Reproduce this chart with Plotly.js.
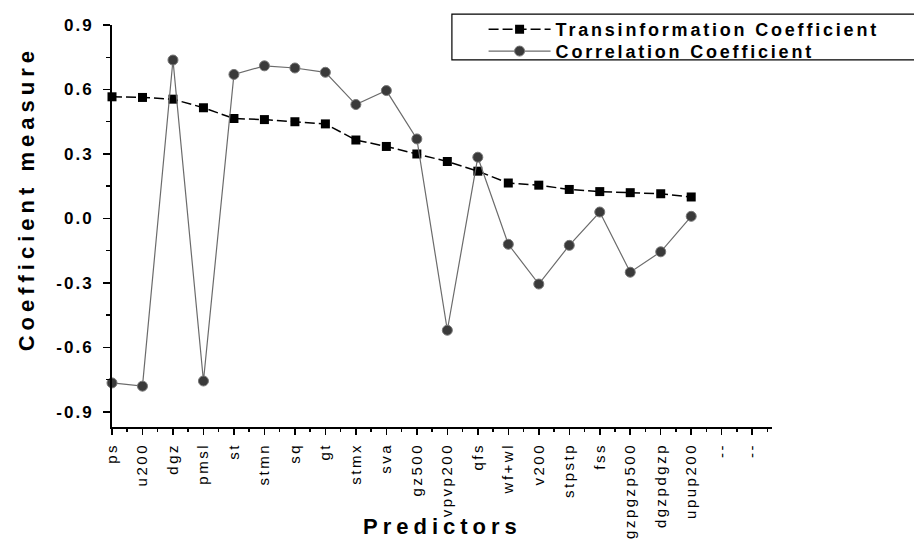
<!DOCTYPE html>
<html><head><meta charset="utf-8">
<script src="https://cdn.plot.ly/plotly-3.0.1.min.js"></script>
<style>
html,body{margin:0;padding:0;background:#fff;}
#chart .xtick text{letter-spacing:2.5px;}
#chart .ytick text{letter-spacing:2px;}
#chart text.legendtext, #chart text.legend2text{letter-spacing:2.8px;}
#chart .annotation-text{letter-spacing:5px;}
</style></head>
<body><div id="chart" style="width:914px;height:544px;"></div>
<script>
const predictors = ['ps','u200','dgz','pmsl','st','stmn','sq','gt','stmx','sva','gz500','vpvp200','qfs','wf+wl','v200','stpstp','fss','gzpgzp500','dgzpdgzp','upup200','--','--'];
const transinformation = [0.566,0.563,0.555,0.515,0.465,0.46,0.45,0.44,0.365,0.335,0.30,0.265,0.22,0.165,0.155,0.135,0.125,0.12,0.115,0.10];
const correlation = [-0.765,-0.78,0.737,-0.756,0.67,0.71,0.70,0.68,0.53,0.595,0.37,-0.52,0.285,-0.12,-0.305,-0.125,0.03,-0.25,-0.155,0.01];
const yTickValues = [-0.9,-0.6,-0.3,0.0,0.3,0.6,0.9];
const yTickLabels = ['-0.9','-0.6','-0.3','0.0','0.3','0.6','0.9'];
const yMinorValues = [-0.75,-0.45,-0.15,0.15,0.45,0.75];

const xIdx = predictors.map((_, i) => i);
const xMinor = predictors.map((_, i) => i + 0.5);
const FONT = 'Liberation Sans, Arial, sans-serif';

const traces = [
  {
    x: xIdx.slice(0, transinformation.length), y: transinformation,
    name: 'Transinformation Coefficient', type: 'scatter', mode: 'lines+markers',
    line: {color: '#000', width: 1.5, dash: '10px,4px'},
    marker: {symbol: 'square', size: 9, color: '#000'},
    cliponaxis: false, legend: 'legend'
  },
  {
    x: xIdx.slice(0, correlation.length), y: correlation,
    name: 'Correlation Coefficient', type: 'scatter', mode: 'lines+markers',
    line: {color: '#6b6b6b', width: 1.2},
    marker: {symbol: 'circle', size: 10, color: '#3a3a3a', line: {color: '#777', width: 1}},
    cliponaxis: false, legend: 'legend2'
  }
];

function legendCfg(y) {
  return {
    x: 0.563, y: y, xanchor: 'left', yanchor: 'top', orientation: 'h',
    bgcolor: 'rgba(0,0,0,0)', borderwidth: 0,
    itemwidth: 62, entrywidth: 335, entrywidthmode: 'pixels',
    font: {family: FONT, size: 18, color: '#000', weight: 'bold'}
  };
}

const layout = {
  width: 914, height: 544, autosize: false,
  margin: {l: 112, r: 142, t: 24, b: 117},
  paper_bgcolor: '#fff', plot_bgcolor: '#fff',
  font: {family: FONT, color: '#000'},
  showlegend: true,
  legend: legendCfg(1.032),
  legend2: legendCfg(0.978),
  xaxis: {
    range: [0, 21.65], tickmode: 'array', tickvals: xIdx, ticktext: predictors,
    tickangle: -90, ticks: 'outside', ticklen: 6, tickwidth: 1.5, tickcolor: '#000',
    ticklabelstandoff: 2,
    minor: {tickmode: 'array', tickvals: xMinor, ticks: 'outside', ticklen: 3, tickwidth: 1.5, tickcolor: '#000'},
    showline: true, linewidth: 2, linecolor: '#000', showgrid: false, zeroline: false,
    tickfont: {family: FONT, size: 15, color: '#000'}, fixedrange: true
  },
  yaxis: {
    range: [-0.97, 0.9], tickmode: 'array', tickvals: yTickValues, ticktext: yTickLabels,
    ticks: 'outside', ticklen: 7, tickwidth: 1.5, tickcolor: '#000',
    ticklabelstandoff: 6,
    minor: {tickmode: 'array', tickvals: yMinorValues, ticks: 'outside', ticklen: 4, tickwidth: 1.5, tickcolor: '#000'},
    showline: true, linewidth: 2, linecolor: '#000', showgrid: false, zeroline: false,
    tickfont: {family: FONT, size: 17, color: '#000', weight: 'bold'}, fixedrange: true
  },
  shapes: [
    {type: 'rect', xref: 'paper', yref: 'paper', x0: 0.515, x1: 1.23, y0: 0.913, y1: 1.027,
     line: {color: '#000', width: 1.2}, fillcolor: 'rgba(0,0,0,0)', layer: 'above'}
  ],
  annotations: [
    {text: 'Coefficient measure', xref: 'paper', yref: 'paper', x: -0.130, y: 0.568,
     xanchor: 'center', yanchor: 'middle', textangle: -90, showarrow: false,
     font: {family: FONT, size: 22, color: '#000', weight: 'bold'}},
    {text: 'Predictors', xref: 'paper', yref: 'paper', x: 0.5, y: -0.248,
     xanchor: 'center', yanchor: 'middle', showarrow: false,
     font: {family: FONT, size: 22, color: '#000', weight: 'bold'}}
  ]
};

Plotly.newPlot('chart', traces, layout, {displayModeBar: false, staticPlot: true});
</script>
</body></html>
